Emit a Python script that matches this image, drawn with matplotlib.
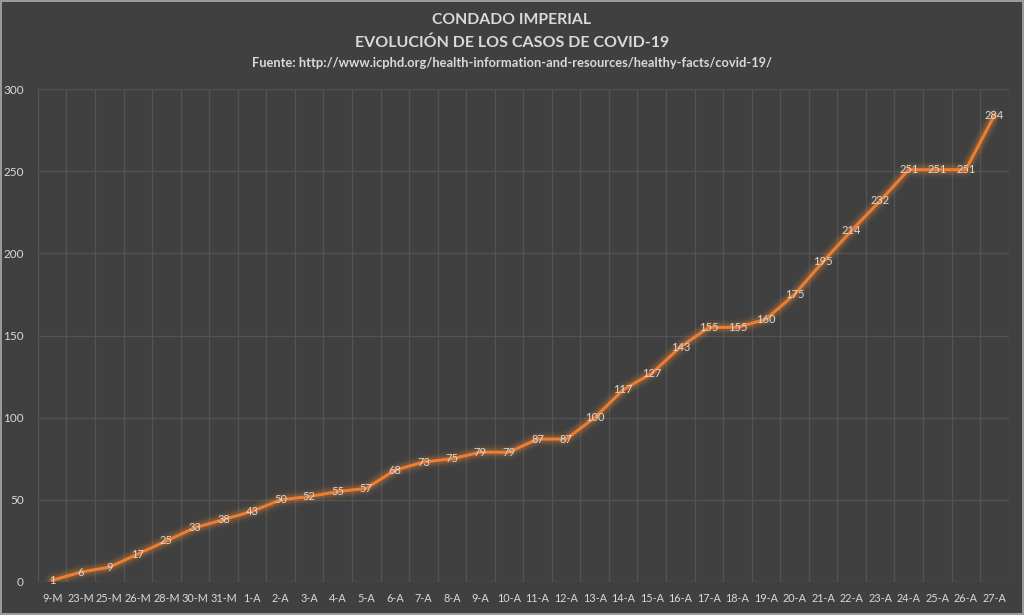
import numpy as np
import matplotlib.pyplot as plt

fechas = ["9-M", "23-M", "25-M", "26-M", "28-M", "30-M", "31-M"] + [f"{d}-A" for d in range(1, 28)]
casos = [1, 6, 9, 17, 25, 33, 38, 43, 50, 52, 55, 57, 68, 73, 75, 79, 79, 87, 87,
         100, 117, 127, 143, 155, 155, 160, 175, 195, 214, 232, 251, 251, 251, 284]

bg = "#404040"
grid_c = "#535353"
text_c = "#d9d9d9"
naranja = "#ed7d31"

plt.rcParams['font.family'] = ['Lato', 'DejaVu Sans']

fig = plt.figure(figsize=(10.24, 6.15), dpi=100)
fig.patch.set_facecolor(bg)
fig.patch.set_edgecolor("#9a9a9a")
fig.patch.set_linewidth(1.5)
ax = fig.add_axes([0.037, 0.0537, 0.948, 0.8013])
ax.set_facecolor(bg)

x = np.arange(len(casos))
# glow
for lw, a in [(11, 0.06), (8, 0.1), (5.5, 0.16)]:
    ax.plot(x, casos, color="#f08a3a", lw=lw, alpha=a, solid_capstyle="round")
ax.plot(x, casos, color=naranja, lw=2.2, zorder=3)

for xi, v in zip(x, casos):
    ax.text(xi, v, str(v), color=text_c, fontsize=8, ha="center", va="center", zorder=4)

ax.set_xlim(-0.5, len(casos) - 0.5)
ax.set_ylim(0, 300)
ax.set_yticks(range(0, 301, 50))
ax.set_xticks(x)
ax.set_xticklabels(fechas)
ax.set_xticks(np.arange(-0.5, len(casos), 1), minor=True)
ax.grid(axis="y", which="major", color=grid_c, lw=1)
ax.grid(axis="x", which="minor", color=grid_c, lw=1)
ax.tick_params(axis="both", which="both", length=0, colors=text_c, labelsize=8.5)
ax.tick_params(axis="x", pad=8, labelsize=7.8)
ax.tick_params(axis="y", pad=10)
for s in ax.spines.values():
    s.set_visible(False)
ax.set_axisbelow(True)

fig.text(0.5, 0.967, "CONDADO IMPERIAL", color=text_c, fontsize=11.3, fontweight="bold", ha="center", va="center")
fig.text(0.5, 0.93, "EVOLUCIÓN DE LOS CASOS DE COVID-19", color=text_c, fontsize=11.5, fontweight="bold", ha="center", va="center")
fig.text(0.5, 0.897, "Fuente: http://www.icphd.org/health-information-and-resources/healthy-facts/covid-19/",
         color=text_c, fontsize=9.3, fontweight="bold", ha="center", va="center")

fig.savefig("out.png", dpi=100, facecolor=bg, edgecolor="#9a9a9a")
